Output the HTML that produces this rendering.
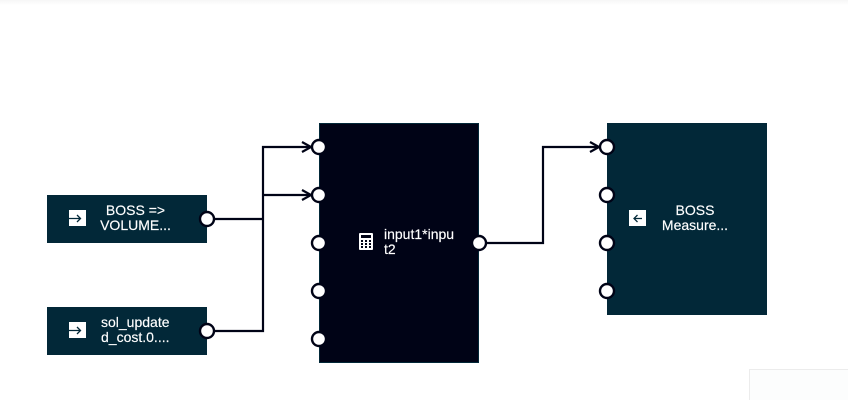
<!DOCTYPE html>
<html><head><meta charset="utf-8"><style>
html,body{margin:0;padding:0;background:#fff;width:848px;height:400px;overflow:hidden}
svg{display:block}
text{font-family:"Liberation Sans",sans-serif;font-size:14px;fill:#fff;stroke:#fff;stroke-width:.15}
</style></head><body>
<svg width="848" height="400" viewBox="0 0 848 400" xmlns="http://www.w3.org/2000/svg">
<defs><linearGradient id="top" x1="0" y1="0" x2="0" y2="1"><stop offset="0" stop-color="#f6f6f6"/><stop offset="1" stop-color="#fff"/></linearGradient></defs>
<rect x="0" y="0" width="848" height="5" fill="url(#top)"/>
<rect x="749.5" y="369.5" width="100" height="32" fill="#fcfdfd" stroke="#ececec"/>

<rect x="47" y="195" width="160" height="48" fill="#022838"/>
<rect x="47" y="307" width="160" height="48" fill="#022838"/>
<rect x="319.500" y="123.500" width="159" height="239" fill="#000316" stroke="#022838"/>
<rect x="607" y="123" width="160" height="192" fill="#022838"/>

<g fill="none" stroke="#000316" stroke-width="2.200">
<path d="M207 219H263M207 331H263V147H312M263 195H312"/>
<path d="M479 243H543V147H600"/>
<path d="M302 142L311 147L302 152M302 190L311 195L302 200M590 142L599 147L590 152"/>
</g>

<g fill="#fff" stroke="#000316" stroke-width="2.400">
<circle cx="207" cy="219" r="7"/><circle cx="207" cy="331" r="7"/>
<circle cx="319" cy="147" r="7"/><circle cx="319" cy="195" r="7"/><circle cx="319" cy="243" r="7"/><circle cx="319" cy="291" r="7"/><circle cx="319" cy="339" r="7"/>
<circle cx="479" cy="243" r="7"/>
<circle cx="607" cy="147" r="7"/><circle cx="607" cy="195" r="7"/><circle cx="607" cy="243" r="7"/><circle cx="607" cy="291" r="7"/>
</g>

<g>
<rect x="69" y="210" width="17" height="16" fill="#fff"/>
<path d="M69 218.500H80M77 215L80.500 218.500L77 222" fill="none" stroke="#022838" stroke-width="1.300"/>
<rect x="69" y="322" width="17" height="16" fill="#fff"/>
<path d="M69 330.500H80M77 327L80.500 330.500L77 334" fill="none" stroke="#022838" stroke-width="1.300"/>
<rect x="629" y="210" width="17" height="16" fill="#fff"/>
<path d="M642 218.500H634M637.500 215L634 218.500L637.500 222" fill="none" stroke="#022838" stroke-width="1.300"/>
</g>

<g>
<rect x="359" y="233" width="14" height="17" rx="1" fill="#fff"/>
<rect x="361" y="235" width="10" height="3" fill="#000316"/>
<g fill="#000316">
<rect x="361" y="240" width="2" height="2"/><rect x="365" y="240" width="2" height="2"/><rect x="369" y="240" width="2" height="2"/>
<rect x="361" y="243" width="2" height="2"/><rect x="365" y="243" width="2" height="2"/><rect x="369" y="243" width="2" height="2"/>
<rect x="361" y="246" width="2" height="2"/><rect x="365" y="246" width="2" height="2"/><rect x="369" y="246" width="2" height="2"/>
</g>
</g>

<text x="135.500" y="215" text-anchor="middle">BOSS =&gt;</text>
<text x="135.500" y="230" text-anchor="middle">VOLUME...</text>
<text x="101" y="327">sol_update</text>
<text x="101" y="342">d_cost.0....</text>
<text x="384" y="239">input1*inpu</text>
<text x="384" y="254">t2</text>
<text x="695" y="215" text-anchor="middle">BOSS</text>
<text x="695" y="230" text-anchor="middle">Measure...</text>
</svg>
</body></html>
